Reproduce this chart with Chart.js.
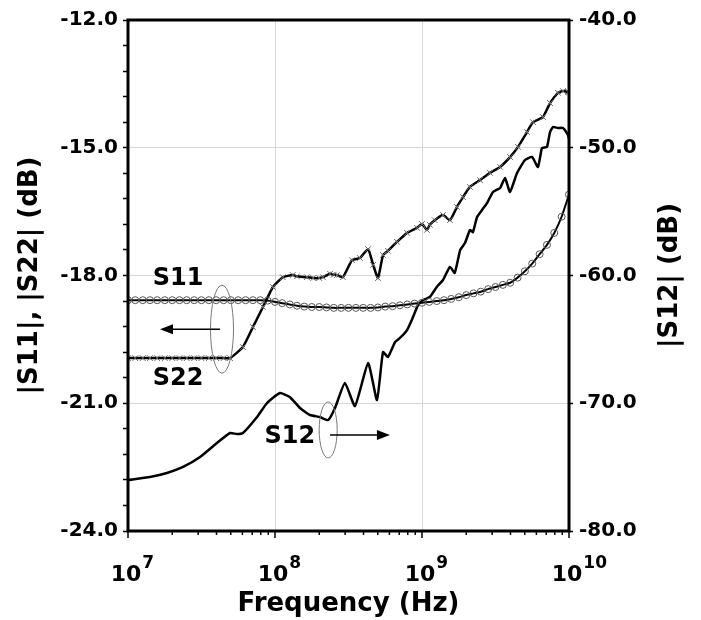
<!DOCTYPE html>
<html>
<head>
<meta charset="utf-8">
<script src="https://cdn.jsdelivr.net/npm/chart.js@4"></script>
<style>
  body { margin: 0; background: #fff; }
  #wrap { width: 701px; height: 620px; position: relative; }
</style>
</head>
<body>
<div id="wrap"><canvas id="sparamChart"></canvas></div>
<script>
// S-parameter sweep

// |S11| (dB), left axis, circle markers
const freqS11 = [
    1.00e7, 1.12e7, 1.26e7, 1.41e7, 1.58e7, 1.78e7, 2.00e7, 2.24e7, 2.51e7, 2.82e7,
    3.16e7, 3.55e7, 3.98e7, 4.47e7, 5.01e7, 5.62e7, 6.31e7, 7.08e7, 7.94e7, 8.91e7,
    1.00e8, 1.12e8, 1.26e8, 1.41e8, 1.58e8, 1.78e8, 2.00e8, 2.24e8, 2.51e8, 2.82e8,
    3.16e8, 3.55e8, 3.98e8, 4.47e8, 5.01e8, 5.62e8, 6.31e8, 7.08e8, 7.94e8, 8.91e8,
    1.00e9, 1.12e9, 1.26e9, 1.41e9, 1.58e9, 1.78e9, 2.00e9, 2.24e9, 2.51e9, 2.82e9,
    3.16e9, 3.55e9, 3.98e9, 4.47e9, 5.01e9, 5.62e9, 6.31e9, 7.08e9, 7.94e9, 8.91e9,
    1.00e10
];
const s11 = [
    -18.58, -18.58, -18.58, -18.58, -18.58, -18.58, -18.58, -18.58, -18.58, -18.58,
    -18.58, -18.58, -18.58, -18.58, -18.58, -18.58, -18.58, -18.58, -18.58, -18.59,
    -18.62, -18.65, -18.68, -18.71, -18.73, -18.74, -18.74, -18.75, -18.76, -18.76,
    -18.76, -18.76, -18.76, -18.76, -18.75, -18.73, -18.72, -18.70, -18.68, -18.66,
    -18.64, -18.62, -18.60, -18.58, -18.55, -18.51, -18.46, -18.42, -18.38, -18.32,
    -18.27, -18.22, -18.17, -18.05, -17.90, -17.72, -17.50, -17.28, -17.00, -16.62,
    -16.10
];

// |S22| (dB), left axis, cross markers
const freqS22 = [
    1.00e7, 1.12e7, 1.26e7, 1.41e7, 1.58e7, 1.78e7, 2.00e7, 2.24e7, 2.51e7, 2.82e7,
    3.16e7, 3.55e7, 3.98e7, 4.47e7, 4.94e7, 6.05e7, 7.08e7, 8.28e7, 9.68e7, 1.13e8,
    1.32e8, 1.41e8, 1.65e8, 1.82e8, 2.00e8, 2.12e8, 2.37e8, 2.51e8, 2.64e8, 2.90e8,
    3.34e8, 3.78e8, 4.30e8, 4.65e8, 5.02e8, 5.43e8, 5.87e8, 6.76e8, 7.91e8, 9.25e8,
    1.00e9, 1.08e9, 1.13e9, 1.22e9, 1.39e9, 1.55e9, 1.73e9, 1.90e9, 2.12e9, 2.48e9,
    2.90e9, 3.40e9, 3.97e9, 4.50e9, 5.18e9, 5.69e9, 6.65e9, 7.43e9, 8.41e9, 9.10e9,
    9.84e9, 1.00e10
];
const s22 = [
    -19.94, -19.94, -19.94, -19.94, -19.94, -19.94, -19.94, -19.94, -19.94, -19.94,
    -19.94, -19.94, -19.94, -19.94, -19.94, -19.68, -19.21, -18.74, -18.27, -18.04,
    -17.99, -18.02, -18.04, -18.06, -18.06, -18.04, -17.96, -17.98, -17.99, -18.04,
    -17.64, -17.59, -17.38, -17.75, -18.06, -17.52, -17.42, -17.21, -17.00, -16.88,
    -16.79, -16.93, -16.81, -16.70, -16.58, -16.70, -16.39, -16.16, -15.92, -15.76,
    -15.59, -15.45, -15.22, -14.98, -14.63, -14.40, -14.28, -13.95, -13.71, -13.67,
    -13.69, -13.70
];

// |S12| (dB), right axis, no markers
const freqS12 = [
    1.00e7, 1.41e7, 1.84e7, 2.37e7, 3.09e7, 4.03e7, 4.94e7, 5.51e7, 6.05e7, 7.55e7,
    8.83e7, 1.08e8, 1.26e8, 1.48e8, 1.73e8, 2.02e8, 2.30e8, 2.56e8, 2.99e8, 3.50e8,
    4.30e8, 4.94e8, 5.43e8, 5.87e8, 6.55e8, 7.08e8, 7.91e8, 8.69e8, 9.40e8, 1.02e9,
    1.13e9, 1.26e9, 1.39e9, 1.55e9, 1.67e9, 1.82e9, 1.96e9, 2.12e9, 2.22e9, 2.37e9,
    2.56e9, 2.77e9, 3.04e9, 3.40e9, 3.67e9, 3.97e9, 4.43e9, 5.02e9, 5.60e9, 6.15e9,
    6.55e9, 7.08e9, 7.43e9, 7.78e9, 8.41e9, 9.10e9, 9.84e9, 1.00e10
];
const s12 = [
    -76.01, -75.77, -75.46, -74.99, -74.21, -73.11, -72.33, -72.41, -72.33, -71.08,
    -69.98, -69.20, -69.51, -70.37, -70.92, -71.08, -71.31, -70.37, -68.42, -70.22,
    -66.85, -69.75, -65.99, -66.38, -65.21, -64.89, -64.27, -63.25, -62.31, -61.92,
    -61.68, -60.90, -60.35, -59.33, -59.80, -58.00, -57.46, -56.44, -56.60, -55.42,
    -54.87, -54.33, -53.46, -53.15, -52.37, -53.46, -51.98, -50.96, -50.72, -51.51,
    -50.02, -49.94, -48.77, -48.38, -48.45, -48.45, -49.00, -49.30
];

// axis ticks
const leftTicks = [-24, -21, -18, -15, -12];
const rightTicks = [-80, -70, -60, -50, -40];
const xTickBase = '10';
const xTickExps = ['7', '8', '9', '10'];

// annotations (positions in data units)
const seriesNotes = [
    { text: 'S11', f: 2.19e7, v: -18.08, axis: 'y' },
    { text: 'S22', f: 2.19e7, v: -20.43, axis: 'y' },
    { text: 'S12', f: 1.26e8, v: -72.64, axis: 'y2' }
];
const ellipses = [
    { f: 4.36e7, v: -19.26, axis: 'y', rx: 11.5, ry: 44 },
    { f: 2.30e8, v: -72.09, axis: 'y2', rx: 9, ry: 28 }
];
const arrows = [
    { from: 4.23e7, to: 1.65e7, v: -19.26, axis: 'y' },
    { from: 2.37e8, to: 6.05e8, v: -72.49, axis: 'y2' }
];

const FONT = "'DejaVu Sans', sans-serif";

function pairs(xs, ys) {
    return xs.map((f, i) => ({ x: f, y: ys[i] }));
}

function isDecade(v) {
    const l = Math.log10(v);
    return Math.abs(l - Math.round(l)) < 1e-6;
}

const decorPlugin = {
    id: 'decor',
    afterDraw(chart) {
        const { ctx, chartArea: a, scales } = chart;
        const xs = scales.x;
        ctx.save();

        // x tick marks (decades long, 2..9 short)
        ctx.strokeStyle = '#000';
        ctx.lineWidth = 1.5;
        for (let e = 7; e <= 10; e++) {
            for (let m = 1; m <= 9; m++) {
                const v = m * Math.pow(10, e);
                if (v > xs.max * 1.0001) break;
                const px = xs.getPixelForValue(v);
                ctx.beginPath();
                ctx.moveTo(px, a.bottom);
                ctx.lineTo(px, a.bottom + (m === 1 ? 7 : 4));
                ctx.stroke();
            }
        }

        // x tick labels 10^n
        ctx.fillStyle = '#000';
        ctx.textBaseline = 'alphabetic';
        xTickExps.forEach((ex) => {
            const px = xs.getPixelForValue(Math.pow(10, Number(ex)));
            ctx.font = 'bold 22px ' + FONT;
            const w = ctx.measureText(xTickBase).width;
            const x0 = px - 2 - w / 2;
            ctx.textAlign = 'left';
            ctx.fillText(xTickBase, x0, 581);
            ctx.font = 'bold 17px ' + FONT;
            ctx.fillText(ex, x0 + w + 1, 568);
        });

        // right axis title, reading upwards
        ctx.font = 'bold 26px ' + FONT;
        ctx.textAlign = 'center';
        ctx.textBaseline = 'middle';
        ctx.save();
        ctx.translate(670, (a.top + a.bottom) / 2);
        ctx.rotate(-Math.PI / 2);
        ctx.fillText('|S12| (dB)', 0, 0);
        ctx.restore();

        // ellipses
        ctx.strokeStyle = '#777';
        ctx.lineWidth = 1;
        ellipses.forEach((el) => {
            const cx = xs.getPixelForValue(el.f);
            const cy = scales[el.axis].getPixelForValue(el.v);
            ctx.beginPath();
            ctx.ellipse(cx, cy, el.rx, el.ry, 0, 0, Math.PI * 2);
            ctx.stroke();
        });

        // arrows
        ctx.strokeStyle = '#000';
        ctx.fillStyle = '#000';
        ctx.lineWidth = 1.5;
        arrows.forEach((ar) => {
            const x1 = xs.getPixelForValue(ar.from);
            const x2 = xs.getPixelForValue(ar.to);
            const y = scales[ar.axis].getPixelForValue(ar.v);
            const dir = Math.sign(x2 - x1);
            ctx.beginPath();
            ctx.moveTo(x1, y);
            ctx.lineTo(x2 - dir * 10, y);
            ctx.stroke();
            ctx.beginPath();
            ctx.moveTo(x2, y);
            ctx.lineTo(x2 - dir * 13, y - 5);
            ctx.lineTo(x2 - dir * 13, y + 5);
            ctx.closePath();
            ctx.fill();
        });

        // series labels
        ctx.font = 'bold 24px ' + FONT;
        ctx.textAlign = 'center';
        ctx.textBaseline = 'middle';
        seriesNotes.forEach((n) => {
            ctx.fillText(n.text, xs.getPixelForValue(n.f), scales[n.axis].getPixelForValue(n.v));
        });

        // plot frame
        ctx.strokeStyle = '#000';
        ctx.lineWidth = 3;
        ctx.strokeRect(a.left, a.top, a.right - a.left, a.bottom - a.top);
        ctx.restore();
    }
};

const ctx = document.getElementById('sparamChart').getContext('2d');
new Chart(ctx, {
    type: 'line',
    data: {
        datasets: [
            {
                label: 'S11',
                data: pairs(freqS11, s11),
                yAxisID: 'y',
                borderColor: '#000',
                borderWidth: 2,
                tension: 0.2,
                pointStyle: 'circle',
                pointRadius: 3.5,
                pointBorderWidth: 1,
                pointBorderColor: '#555',
                pointBackgroundColor: 'rgba(0,0,0,0)'
            },
            {
                label: 'S22',
                data: pairs(freqS22, s22),
                yAxisID: 'y',
                borderColor: '#000',
                borderWidth: 2.5,
                tension: 0.15,
                pointStyle: 'crossRot',
                pointRadius: 4,
                pointBorderWidth: 1,
                pointBorderColor: '#666'
            },
            {
                label: 'S12',
                data: pairs(freqS12, s12),
                yAxisID: 'y2',
                borderColor: '#000',
                borderWidth: 2.5,
                tension: 0.15,
                pointRadius: 0
            }
        ]
    },
    options: {
        responsive: true,
        maintainAspectRatio: false,
        devicePixelRatio: 1,
        animation: false,
        layout: {
            autoPadding: false,
            padding: { top: 20, left: 0, right: 0, bottom: 0 }
        },
        plugins: {
            legend: { display: false },
            tooltip: { enabled: false }
        },
        scales: {
            x: {
                type: 'logarithmic',
                min: 1e7,
                max: 1e10,
                border: { display: false },
                grid: {
                    drawTicks: false,
                    lineWidth: 1,
                    color: function(c) {
                        return c.tick && isDecade(c.tick.value) ? '#d6d6d6' : 'rgba(0,0,0,0)';
                    }
                },
                ticks: { display: false, autoSkip: false },
                title: {
                    display: true,
                    text: 'Frequency (Hz)',
                    color: '#000',
                    font: { family: FONT, size: 26, weight: 'bold' },
                    padding: { top: 0, bottom: 0 }
                },
                afterFit: function(scale) { scale.height = 89; }
            },
            y: {
                position: 'left',
                min: -24,
                max: -12,
                border: { display: false },
                grid: {
                    tickLength: 5,
                    tickWidth: 1.5,
                    tickColor: '#000',
                    lineWidth: 1,
                    color: function(c) {
                        return c.tick && leftTicks.includes(c.tick.value) ? '#d6d6d6' : 'rgba(0,0,0,0)';
                    }
                },
                ticks: {
                    stepSize: 0.6,
                    autoSkip: false,
                    padding: 5,
                    color: '#000',
                    font: { family: FONT, size: 20, weight: 'bold' },
                    callback: function(value) {
                        return leftTicks.includes(value) ? value.toFixed(1) : '';
                    }
                },
                title: {
                    display: true,
                    text: '|S11|, |S22| (dB)',
                    color: '#000',
                    font: { family: FONT, size: 26, weight: 'bold' },
                    padding: { top: 15, bottom: 0 }
                },
                afterFit: function(scale) { scale.width = 128; }
            },
            y2: {
                position: 'right',
                min: -80,
                max: -40,
                border: { display: false },
                grid: {
                    drawOnChartArea: false,
                    tickLength: 4,
                    tickWidth: 1.5,
                    tickColor: '#000'
                },
                ticks: {
                    stepSize: 10,
                    autoSkip: false,
                    padding: 6,
                    color: '#000',
                    font: { family: FONT, size: 20, weight: 'bold' },
                    callback: function(value) {
                        return rightTicks.includes(value) ? value.toFixed(1) : '';
                    }
                },
                afterFit: function(scale) { scale.width = 132; }
            }
        }
    },
    plugins: [decorPlugin]
});
</script>
</body>
</html>
